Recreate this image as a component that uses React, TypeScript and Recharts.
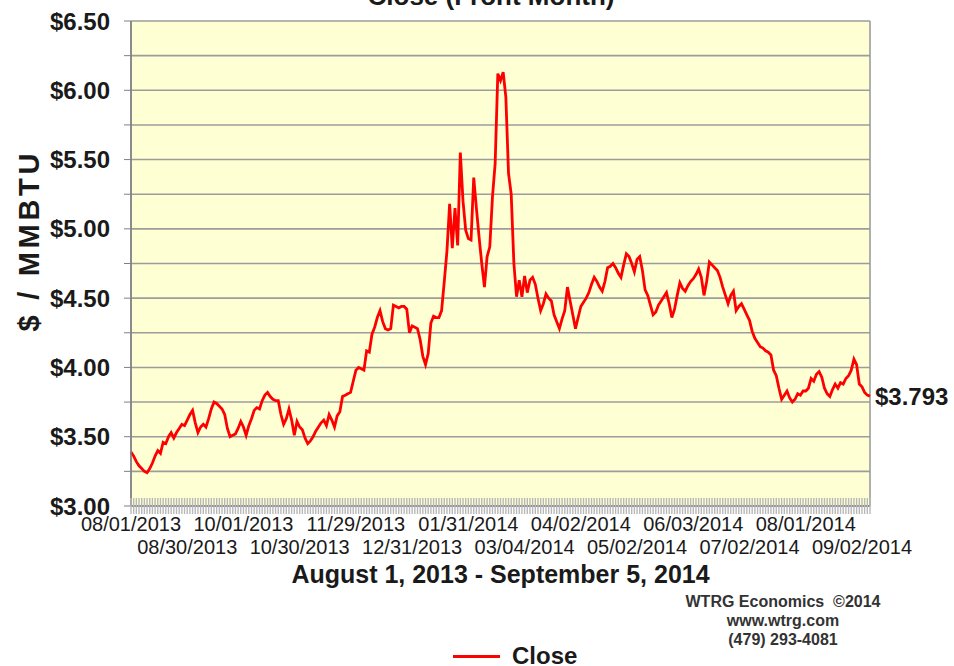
import React from 'react';
import { LineChart, Line, XAxis, YAxis, CartesianGrid, ReferenceDot, Legend, Label } from 'recharts';

const FONT = '"Liberation Sans", Arial, sans-serif';

// date labels, shown every 21 trading days
const tickLabels = [
  '08/01/2013', '08/30/2013', '10/01/2013', '10/30/2013', '11/29/2013', '12/31/2013', '01/31/2014',
  '03/04/2014', '04/02/2014', '05/02/2014', '06/03/2014', '07/02/2014', '08/01/2014', '09/02/2014',
];
const TICK_STEP = 21;

// front-month close, $/MMBTU, one value per trading day
const aug13 = [3.39, 3.36, 3.32, 3.29, 3.27, 3.25, 3.24, 3.27, 3.31, 3.36, 3.40, 3.38, 3.46, 3.45, 3.50, 3.53, 3.49, 3.53, 3.56, 3.59, 3.58, 3.62];
const sep13 = [3.66, 3.69, 3.60, 3.53, 3.57, 3.59, 3.57, 3.63, 3.70, 3.75, 3.74, 3.72, 3.70, 3.66, 3.56, 3.50, 3.51, 3.52, 3.56, 3.61];
const oct13 = [3.57, 3.51, 3.58, 3.63, 3.69, 3.71, 3.70, 3.76, 3.80, 3.82, 3.79, 3.77, 3.76, 3.76, 3.66, 3.59, 3.63, 3.70, 3.62, 3.51, 3.61, 3.57, 3.55];
const nov13 = [3.49, 3.45, 3.47, 3.50, 3.54, 3.57, 3.60, 3.62, 3.58, 3.66, 3.62, 3.57, 3.65, 3.68, 3.79, 3.80, 3.81, 3.82, 3.90, 3.98];
const dec13 = [4.00, 3.99, 3.98, 4.12, 4.11, 4.24, 4.29, 4.36, 4.41, 4.33, 4.28, 4.27, 4.28, 4.45, 4.44, 4.43, 4.44, 4.44, 4.42, 4.25, 4.30];
const jan14 = [4.29, 4.28, 4.20, 4.08, 4.02, 4.10, 4.32, 4.37, 4.36, 4.36, 4.41, 4.62, 4.84, 5.18, 4.86, 5.15, 4.88, 5.55, 5.20, 4.99, 4.93];
const feb14 = [4.92, 5.37, 5.15, 4.94, 4.75, 4.58, 4.80, 4.87, 5.23, 5.47, 6.12, 6.07, 6.13, 5.95, 5.40, 5.25, 4.75, 4.51, 4.63];
const mar14 = [4.51, 4.66, 4.54, 4.63, 4.65, 4.60, 4.50, 4.41, 4.46, 4.53, 4.50, 4.48, 4.38, 4.33, 4.28, 4.35, 4.41, 4.58, 4.48, 4.38, 4.28];
const apr14 = [4.36, 4.44, 4.47, 4.50, 4.54, 4.60, 4.65, 4.62, 4.58, 4.55, 4.62, 4.72, 4.73, 4.75, 4.72, 4.68, 4.65, 4.74, 4.82, 4.80, 4.75];
const may14 = [4.69, 4.78, 4.80, 4.70, 4.56, 4.52, 4.45, 4.38, 4.40, 4.45, 4.48, 4.51, 4.54, 4.46, 4.36, 4.42, 4.52, 4.61, 4.57, 4.55, 4.59];
const jun14 = [4.62, 4.64, 4.67, 4.71, 4.65, 4.52, 4.62, 4.76, 4.74, 4.72, 4.70, 4.65, 4.58, 4.52, 4.46, 4.52, 4.55, 4.41, 4.44, 4.46, 4.42];
const jul14 = [4.38, 4.34, 4.26, 4.21, 4.18, 4.15, 4.14, 4.12, 4.11, 4.09, 3.98, 3.94, 3.85, 3.77, 3.80, 3.83, 3.78, 3.75, 3.77, 3.81, 3.80, 3.83];
const aug14 = [3.83, 3.85, 3.92, 3.90, 3.95, 3.97, 3.93, 3.85, 3.81, 3.79, 3.84, 3.88, 3.85, 3.89, 3.88, 3.92, 3.94, 3.98, 4.06, 4.02, 3.88];
const sep14 = [3.86, 3.82, 3.80, 3.793];

const closes = [...aug13, ...sep13, ...oct13, ...nov13, ...dec13, ...jan14, ...feb14, ...mar14, ...apr14, ...may14, ...jun14, ...jul14, ...aug14, ...sep14];
const data = closes.map((close, day) => ({ day, close }));
const lastDay = data.length - 1;
const lastClose = closes[lastDay];

const priceTicks = [3, 3.25, 3.5, 3.75, 4, 4.25, 4.5, 4.75, 5, 5.25, 5.5, 5.75, 6, 6.25, 6.5];

const TICK_SIZE = 16;
const TICK_MARGIN = 2;

// every trading day gets a small mark across the axis (the grey band), every 21st a date
function DateTick(props: any) {
  const { x, y, payload } = props;
  const day = payload.value;
  const axisY = y - TICK_SIZE - TICK_MARGIN;
  const mark = <line x1={x} x2={x} y1={axisY - 8} y2={axisY + 8} stroke="#b8b8b8" strokeWidth={1.4} />;
  if (day % TICK_STEP !== 0) return <g>{mark}</g>;
  const k = day / TICK_STEP;
  return (
    <g>
      {mark}
      <text x={x} y={y} dy={k % 2 ? 30 : 7} textAnchor="middle" fontFamily={FONT} fontSize={20} fill="#1a1a1a">
        {tickLabels[k]}
      </text>
    </g>
  );
}

function CloseLegend(props: any) {
  const { payload } = props;
  return (
    <div style={{ display: 'flex', alignItems: 'center', fontFamily: FONT, fontWeight: 'bold', fontSize: 24, color: '#1a1a1a' }}>
      {(payload || []).map((p: any) => (
        <React.Fragment key={p.value}>
          <span style={{ display: 'inline-block', width: 47, height: 3, background: p.color, marginRight: 12 }} />
          <span>{p.value}</span>
        </React.Fragment>
      ))}
    </div>
  );
}

export default function App() {
  return (
    <div style={{ position: 'absolute', left: 0, top: 0, width: 954, height: 666, background: '#fff', overflow: 'hidden' }}>
      <LineChart width={954} height={666} data={data} margin={{ top: 21, right: 84, bottom: 0, left: 0 }}>
        <CartesianGrid
          stroke="#9c9c9c"
          strokeWidth={1.6}
          fill="#ffffd4"
          verticalCoordinatesGenerator={({ offset }: any) => [offset.left, offset.left + offset.width]}
        />
        <XAxis
          dataKey="day"
          interval={0}
          tickSize={TICK_SIZE}
          tickMargin={TICK_MARGIN}
          height={160}
          axisLine={{ stroke: '#808080', strokeWidth: 1.5 }}
          tickLine={false}
          tick={DateTick}
        >
          <Label
            content={({ viewBox }: any) => (
              <text x={viewBox.x + viewBox.width / 2} y={viewBox.y + 77} textAnchor="middle" fontFamily={FONT} fontWeight="bold" fontSize={25} fill="#1a1a1a">
                August 1, 2013 - September 5, 2014
              </text>
            )}
          />
        </XAxis>
        <YAxis
          width={131}
          domain={[3, 6.5]}
          ticks={priceTicks}
          interval={0}
          tickSize={7}
          tickMargin={14}
          axisLine={{ stroke: '#808080', strokeWidth: 1.5 }}
          tickLine={{ stroke: '#808080' }}
          tick={{ fontFamily: FONT, fontSize: 24, fontWeight: 'bold', fill: '#1a1a1a' }}
          tickFormatter={(v: number) => (v % 0.5 === 0 ? `$${v.toFixed(2)}` : '')}
        >
          <Label
            content={({ viewBox }: any) => {
              const cx = 29;
              const cy = viewBox.y + viewBox.height / 2 - 21;
              return (
                <text
                  x={cx}
                  y={cy}
                  transform={`rotate(-90, ${cx}, ${cy})`}
                  textAnchor="middle"
                  dominantBaseline="central"
                  fontFamily={FONT}
                  fontWeight="bold"
                  fontSize={29}
                  textLength={178}
                  lengthAdjust="spacing"
                  fill="#1a1a1a"
                >
                  $ / MMBTU
                </text>
              );
            }}
          />
        </YAxis>
        <Line
          type="linear"
          dataKey="close"
          name="Close"
          stroke="#ff0000"
          strokeWidth={2.8}
          dot={false}
          isAnimationActive={false}
        />
        <ReferenceDot
          x={lastDay}
          y={lastClose}
          r={0}
          stroke="none"
          label={{
            content: ({ viewBox }: any) => (
              <text x={viewBox.x + viewBox.width + 5} y={viewBox.y + viewBox.height / 2} dy="0.35em" fontFamily={FONT} fontWeight="bold" fontSize={24} fill="#1a1a1a">
                {`$${lastClose.toFixed(3)}`}
              </text>
            ),
          }}
        />
        <Legend
          layout="horizontal"
          verticalAlign="middle"
          align="center"
          wrapperStyle={{ top: 642, left: 453, width: 200 }}
          content={CloseLegend}
        />
      </LineChart>
      <svg width={954} height={666} style={{ position: 'absolute', left: 0, top: 0, pointerEvents: 'none' }}>
        <text x={491} y={5} textAnchor="middle" fontFamily={FONT} fontWeight="bold" fontSize={26} fill="#1a1a1a">
          Close (Front Month)
        </text>
        <g fontFamily={FONT} fontWeight="bold" fontSize={16} fill="#333" textAnchor="middle">
          <text x={783} y={607}>{'WTRG Economics\u00a0 \u00a92014'}</text>
          <text x={783} y={626}>www.wtrg.com</text>
          <text x={783} y={645}>(479) 293-4081</text>
        </g>
      </svg>
    </div>
  );
}
